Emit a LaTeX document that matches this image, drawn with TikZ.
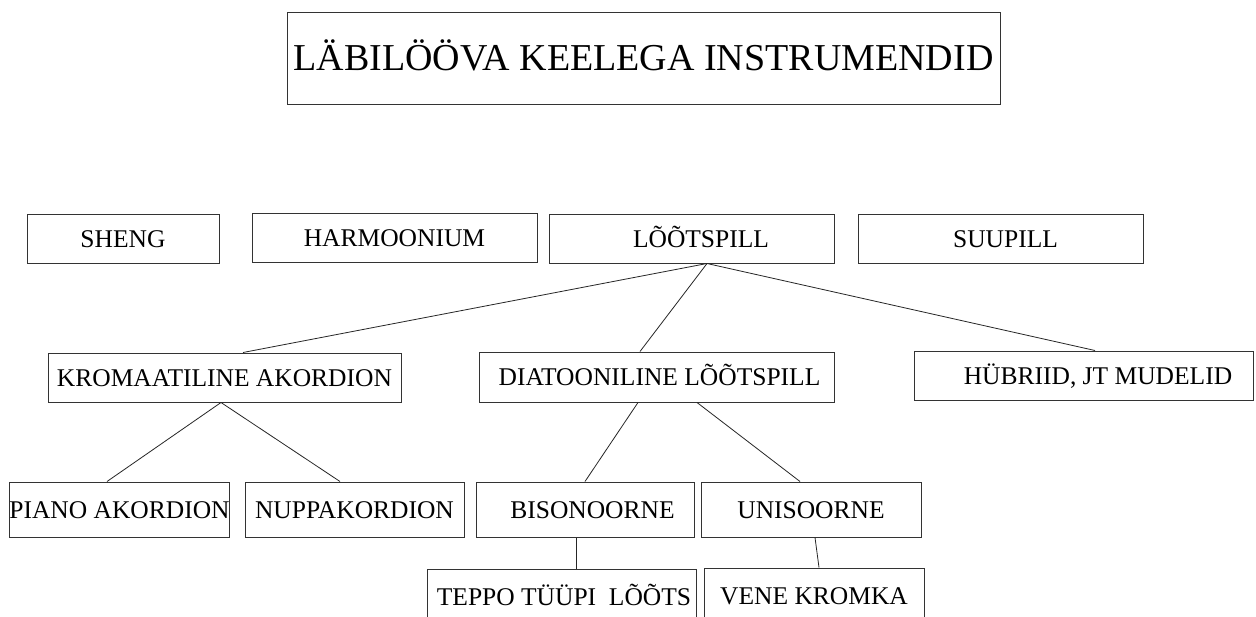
\documentclass[tikz,border=0pt]{standalone}
\usepackage{fontspec}
\setmainfont{Liberation Serif}
\begin{document}
\begin{tikzpicture}[x=1pt,y=-1pt,
  box/.style={draw=black!80, line width=1pt, inner sep=0pt, minimum height=49pt,
    text height=17pt, text depth=0pt, font=\fontsize{25.5}{30}\selectfont},
  titlebox/.style={draw=black!80, line width=1pt, inner sep=0pt,
    text height=25pt, text depth=0pt, font=\fontsize{38}{42}\selectfont},
  conn/.style={draw=black!85, line width=0.8pt}]
\useasboundingbox (0,0) rectangle (1256,616);
\clip (0,0) rectangle (1256,616);
\fill[white] (0,0) rectangle (1256,616);
% title
\node[titlebox, minimum width=713pt, minimum height=92pt] (title) at (643.5,58) {LÄBILÖÖVA KEELEGA INSTRUMENDID};
% row 1
\node[box, minimum width=192pt] (sheng) at (123,238.5) {SHENG};
\node[box, minimum width=285pt] (harm) at (394.5,237.5) {HARMOONIUM};
\node[box, minimum width=285pt] (loot) at (691.5,238.5) {\hspace*{19pt}LÕÕTSPILL};
\node[box, minimum width=285pt] (suu) at (1000.5,238.5) {\hspace*{10pt}SUUPILL};
% row 2
\node[box, minimum width=353pt] (krom) at (224.5,377.5) {KROMAATILINE AKORDION};
\node[box, minimum width=355pt, minimum height=50pt] (diat) at (656.5,377) {\hspace*{6pt}DIATOONILINE LÕÕTSPILL};
\node[box, minimum width=339pt] (hyb) at (1083.5,375.5) {\hspace*{29pt}HÜBRIID, JT MUDELID};
% row 3
\node[box, minimum width=219pt, minimum height=55pt] (piano) at (119.5,509.5) {PIANO AKORDION};
\node[box, minimum width=219pt, minimum height=55pt] (nupp) at (354.5,509.5) {NUPPAKORDION};
\node[box, minimum width=218pt, minimum height=55pt] (biso) at (585,509.5) {\hspace*{15pt}BISONOORNE};
\node[box, minimum width=220pt, minimum height=55pt] (uni) at (811,509.5) {UNISOORNE};
% row 4
\node[box, minimum width=269pt, minimum height=55pt] (teppo) at (561.5,596.5) {\hspace*{5pt}TEPPO TÜÜPI\ \ LÕÕTS};
\node[box, minimum width=220pt, minimum height=55pt] (vene) at (814,595.5) {VENE KROMKA};
% connectors
\draw[conn] ([xshift=15.5pt]loot.south) -- ([xshift=18.5pt]krom.north);
\draw[conn] ([xshift=15.5pt]loot.south) -- ([xshift=-16.5pt]diat.north);
\draw[conn] ([xshift=15.5pt]loot.south) -- ([xshift=11.5pt]hyb.north);
\draw[conn] ([xshift=-3.5pt]krom.south) -- ([xshift=-12.5pt]piano.north);
\draw[conn] ([xshift=-3.5pt]krom.south) -- ([xshift=-14.5pt]nupp.north);
\draw[conn] ([xshift=-18.5pt]diat.south) -- (biso.north);
\draw[conn] ([xshift=40.5pt]diat.south) -- ([xshift=-11pt]uni.north);
\draw[conn] ([xshift=-9pt]biso.south) -- ([xshift=14.5pt]teppo.north);
\draw[conn] ([xshift=4pt]uni.south) -- ([xshift=5pt]vene.north);
\end{tikzpicture}
\end{document}
